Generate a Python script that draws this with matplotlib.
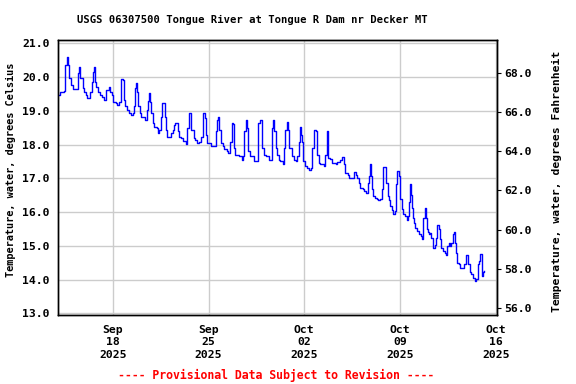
import matplotlib
matplotlib.use("Agg")
import matplotlib.pyplot as plt
import matplotlib.dates as mdates
import numpy as np
import pandas as pd

# Water temperature, hours after 2025-09-14 00:00 and degrees Celsius
hours = [2, 4, 10, 12, 15, 18, 20, 22, 27, 32, 35, 37, 39, 43, 45, 49, 51, 56, 57, 59,
         62, 63, 65, 67, 70, 73, 78, 80, 84, 90, 92, 94, 97, 101, 104, 107, 110, 111, 114, 116,
         118, 121, 125, 128, 131, 133, 135, 136, 139, 141, 143, 146, 150, 153, 156, 157, 159, 162, 163, 166,
         169, 173, 175, 178, 180, 182, 185, 188, 190, 191, 195, 198, 201, 203, 205, 209, 210, 213, 216, 220,
         225, 227, 229, 232, 234, 238, 240, 244, 248, 251, 254, 255, 258, 260, 262, 268, 274, 277, 279, 281,
         283, 286, 289, 292, 296, 299, 302, 305, 306, 307, 309, 311, 317, 322, 324, 327, 329, 332, 334, 336,
         341, 344, 348, 350, 351, 354, 357, 358, 361, 364, 370, 375, 377, 379, 382, 385, 388, 390, 395, 397,
         399, 401, 404, 406, 410, 414, 417, 420, 423, 424, 426, 428, 430, 433, 437, 440, 443, 446, 449, 452,
         455, 458, 460, 466, 469, 472, 473, 474, 477, 481, 488, 490, 494, 498, 501, 504, 508, 511, 517, 519,
         523, 525, 528, 530, 535, 537, 540, 543, 545, 547, 549, 551, 553, 556, 560, 562, 565, 568, 570, 574,
         575, 578, 580, 582, 585, 588, 591, 593, 595, 598, 600, 603, 606, 609, 612, 614, 616, 618, 620, 621,
         623, 625, 627, 630, 633, 636, 639, 640, 641, 643, 645, 647, 649, 651, 653, 655, 657, 658, 661, 663,
         665, 668, 670, 672, 675, 678, 681, 683, 685, 688, 690, 692, 694, 696, 698, 700, 703, 706, 710, 713,
         716, 719, 722, 725, 728, 731, 734, 737, 739, 741, 744, 745, 747]
temp_c = [19.47, 19.55, 19.60, 20.36, 20.60, 20.35, 19.97, 19.77, 19.65, 19.65, 20.11, 20.31, 19.97, 19.67, 19.57, 19.47, 19.37, 19.42, 19.57, 19.87,
          20.16, 20.31, 19.87, 19.72, 19.57, 19.47, 19.42, 19.33, 19.62, 19.72, 19.57, 19.47, 19.27, 19.22, 19.16, 19.27, 19.62, 19.95, 19.92, 19.33,
          19.13, 19.03, 18.93, 18.88, 18.93, 19.13, 19.67, 19.82, 19.57, 19.13, 18.93, 18.83, 18.83, 18.73, 19.03, 19.30, 19.52, 19.27, 18.93, 18.64,
          18.52, 18.50, 18.34, 18.44, 18.83, 19.23, 19.23, 18.83, 18.44, 18.22, 18.22, 18.34, 18.44, 18.59, 18.64, 18.64, 18.39, 18.24, 18.19, 18.12,
          18.03, 18.50, 18.93, 18.93, 18.44, 18.19, 18.14, 18.05, 18.07, 18.24, 18.73, 18.93, 18.78, 18.29, 18.05, 17.95, 17.95, 18.39, 18.73, 18.83,
          18.44, 18.05, 17.95, 17.87, 17.80, 17.76, 18.07, 18.49, 18.64, 18.60, 17.90, 17.70, 17.65, 17.55, 17.65, 18.39, 18.73, 18.49, 17.80, 17.65,
          17.65, 17.52, 17.52, 18.09, 18.64, 18.73, 18.39, 17.90, 17.70, 17.65, 17.55, 18.49, 18.73, 18.39, 17.90, 17.70, 17.55, 17.51, 17.43, 17.90,
          18.44, 18.68, 18.44, 17.90, 17.65, 17.55, 17.50, 17.65, 18.09, 18.51, 18.29, 18.09, 17.50, 17.36, 17.31, 17.26, 17.31, 17.90, 18.44, 18.39,
          17.70, 17.45, 17.43, 17.36, 17.70, 18.39, 17.87, 17.60, 17.57, 17.45, 17.43, 17.47, 17.53, 17.63, 17.43, 17.16, 17.11, 17.01, 17.01, 17.20,
          17.11, 17.01, 16.87, 16.72, 16.67, 16.62, 16.57, 16.87, 17.06, 17.43, 17.06, 16.67, 16.47, 16.42, 16.40, 16.35, 16.40, 16.67, 17.34, 17.34,
          16.87, 16.47, 16.35, 16.17, 16.05, 15.93, 16.03, 16.82, 17.21, 17.06, 16.40, 16.10, 15.93, 15.87, 15.78, 15.88, 16.30, 16.82, 16.52, 16.13,
          15.83, 15.68, 15.53, 15.43, 15.34, 15.29, 15.19, 15.63, 15.83, 16.13, 15.83, 15.49, 15.42, 15.34, 15.39, 15.24, 15.04, 14.94, 15.02, 15.24,
          15.61, 15.49, 15.19, 14.94, 14.86, 14.79, 14.74, 14.99, 15.09, 14.99, 15.09, 15.34, 15.42, 15.09, 14.79, 14.50, 14.45, 14.35, 14.35, 14.45,
          14.74, 14.45, 14.21, 14.16, 14.06, 13.96, 14.01, 14.45, 14.55, 14.75, 14.11, 14.21, 14.24]

date_ticks = ["2025-09-18", "2025-09-25", "2025-10-02", "2025-10-09", "2025-10-16"]

start = pd.Timestamp("2025-09-14 00:00")
times = start + pd.to_timedelta(hours, unit="h")

mono = "DejaVu Sans Mono"

fig = plt.figure(figsize=(5.76, 3.84), dpi=100)
ax = fig.add_axes([0.1007, 0.1797, 0.7621, 0.7161])

ax.plot(times, temp_c, color="#0000ff", linewidth=1.0, drawstyle="steps-post")

ax.set_xlim(start, start + pd.Timedelta(hours=770))
ax.set_ylim(12.95, 21.1)
ax.set_yticks(np.arange(13, 21.5, 1.0))
ax.yaxis.set_major_formatter(plt.FormatStrFormatter("%.1f"))
ax.set_xticks(pd.to_datetime(date_ticks))
ax.xaxis.set_major_formatter(mdates.DateFormatter("%b\n%d\n%Y"))
ax.grid(True, color="#cccccc", linewidth=1.0)
ax.set_axisbelow(True)
ax.tick_params(axis="y", length=0, pad=5.8)
ax.tick_params(axis="x", length=0, pad=7)
for lab in ax.get_xticklabels() + ax.get_yticklabels():
    lab.set_fontfamily(mono)
    lab.set_fontweight("bold")
    lab.set_fontsize(8.2)
    lab.set_linespacing(1.3)

ax2 = ax.twinx()
ax2.set_ylim(55.62, 69.71)
ax2.set_yticks(np.arange(56, 69, 2.0))
ax2.yaxis.set_major_formatter(plt.FormatStrFormatter("%.1f"))
ax2.tick_params(axis="y", length=3, pad=2)
for lab in ax2.get_yticklabels():
    lab.set_fontfamily(mono)
    lab.set_fontweight("bold")
    lab.set_fontsize(8.2)

for a in (ax, ax2):
    for s in a.spines.values():
        s.set_linewidth(1.0)
        s.set_color("black")

W, H = 576.0, 384.0
fig.text(252 / W, 1 - 20 / H, "USGS 06307500 Tongue River at Tongue R Dam nr Decker MT",
         ha="center", va="center", fontfamily=mono, fontweight="bold", fontsize=7.6)
fig.text(11 / W, 1 - 170 / H, "Temperature, water, degrees Celsius", rotation=90,
         ha="center", va="center", fontfamily=mono, fontweight="bold", fontsize=7.4)
fig.text(557 / W, 1 - 181 / H, "Temperature, water, degrees Fahrenheit", rotation=90,
         ha="center", va="center", fontfamily=mono, fontweight="bold", fontsize=8.2)
fig.text(276 / W, 1 - 375 / H, "---- Provisional Data Subject to Revision ----", color="red",
         ha="center", va="center", fontfamily=mono, fontweight="bold", fontsize=8.3)

fig.savefig("out.png", dpi=100)
